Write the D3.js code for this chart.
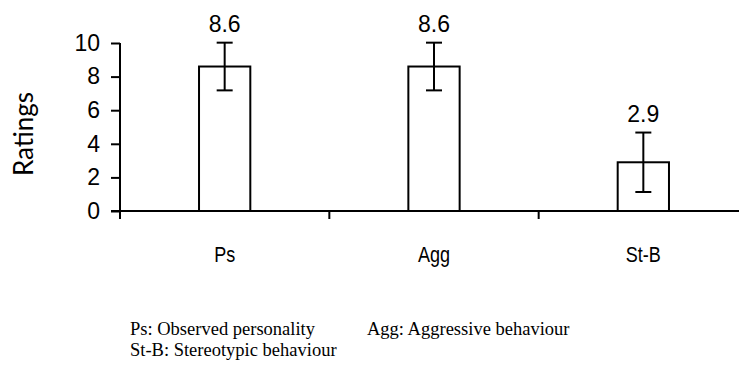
<!DOCTYPE html>
<html>
<head>
<meta charset="utf-8">
<script src="https://cdn.jsdelivr.net/npm/d3@7"></script>
<style>
  html, body { margin: 0; padding: 0; background: #fff; }
  svg { display: block; }
</style>
</head>
<body>
<script>
const categories = ["Ps", "Agg", "St-B"];
const means = [8.6, 8.6, 2.9];
const errors = [1.42, 1.42, 1.77];
const meanLabels = ["8.6", "8.6", "2.9"];
const yTicks = [0, 2, 4, 6, 8, 10];
const yTitle = "Ratings";
const footnotes = [
  { text: "Ps: Observed personality", col: 0, row: 0 },
  { text: "Agg: Aggressive behaviour", col: 1, row: 0 },
  { text: "St-B: Stereotypic behaviour", col: 0, row: 1 }
];

const W = 739, H = 366;
const svg = d3.select("body").append("svg").attr("width", W).attr("height", H);
const sans = "Liberation Sans, Arial, sans-serif";

const x0 = 120, x1 = 748, yTop = 43, yBot = 211;
const x = d3.scaleBand().domain(categories).range([x0, x1]);
const y = d3.scaleLinear().domain([0, 10]).range([yBot, yTop]);
const barW = x.bandwidth() * 0.245;

// y axis
const yAxis = d3.axisLeft(y).tickValues(yTicks).tickSize(9).tickPadding(11).tickFormat(d3.format("d"));
const gy = svg.append("g").attr("transform", `translate(${x0},0)`).call(yAxis);
gy.select(".domain").remove();
gy.selectAll(".tick line").attr("stroke", "#000").attr("stroke-width", 2);
gy.selectAll(".tick text").attr("font-family", sans).attr("font-size", 23).attr("fill", "#000");
svg.append("line").attr("x1", x0).attr("x2", x0).attr("y1", y(10)).attr("y2", yBot + 8)
  .attr("stroke", "#000").attr("stroke-width", 2);

// bars
const g = svg.append("g");
categories.forEach((c, i) => {
  const cx = x(c) + x.bandwidth() / 2;
  g.append("rect").attr("x", cx - barW / 2).attr("y", y(means[i]))
    .attr("width", barW).attr("height", yBot - y(means[i]))
    .attr("fill", "#fff").attr("stroke", "#000").attr("stroke-width", 2);
  const hi = y(means[i] + errors[i]), lo = y(means[i] - errors[i]);
  g.append("line").attr("x1", cx).attr("x2", cx).attr("y1", hi).attr("y2", lo)
    .attr("stroke", "#000").attr("stroke-width", 2);
  [hi, lo].forEach(v => g.append("line").attr("x1", cx - 8).attr("x2", cx + 8)
    .attr("y1", v).attr("y2", v).attr("stroke", "#000").attr("stroke-width", 2));
  g.append("text").attr("x", cx).attr("y", hi - 11).attr("text-anchor", "middle")
    .attr("font-family", sans).attr("font-size", 23).text(meanLabels[i]);
});

// x axis
svg.append("line").attr("x1", 111).attr("x2", x1).attr("y1", yBot).attr("y2", yBot)
  .attr("stroke", "#000").attr("stroke-width", 2);
categories.slice(1).forEach(c => {
  svg.append("line").attr("x1", x(c)).attr("x2", x(c)).attr("y1", yBot).attr("y2", yBot + 8)
    .attr("stroke", "#000").attr("stroke-width", 2);
});
const xAxis = d3.axisBottom(x).tickSize(0).tickPadding(0);
const gx = svg.append("g").attr("transform", `translate(0,${yBot})`).call(xAxis);
gx.select(".domain").remove();
gx.selectAll(".tick text").each(function () {
  const t = d3.select(this);
  t.attr("dy", null).attr("y", null)
    .attr("transform", "translate(0,51) scale(0.82,1)")
    .attr("font-family", sans).attr("font-size", 22).attr("fill", "#000");
});

// y title
svg.append("text").attr("transform", `translate(33,${(yTop + yBot) / 2 + 7}) rotate(-90)`)
  .attr("text-anchor", "middle").attr("font-family", "Lato, Open Sans, sans-serif")
  .attr("font-size", 26).text(yTitle);

// footnotes
svg.selectAll("text.fn").data(footnotes).enter().append("text").attr("class", "fn")
  .attr("x", d => d.col === 0 ? 130 : 367).attr("y", d => 335 + d.row * 21)
  .attr("font-family", "Liberation Serif, Times New Roman, serif").attr("font-size", 18.5)
  .text(d => d.text);
</script>
</body>
</html>
